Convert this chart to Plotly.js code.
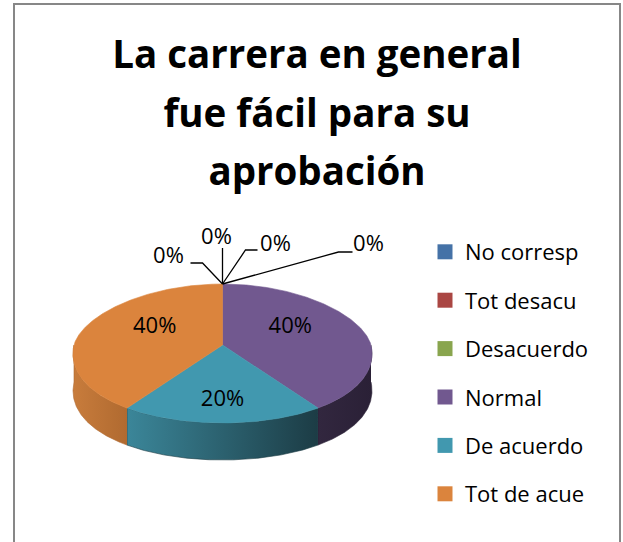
<!DOCTYPE html>
<html>
<head>
<meta charset="utf-8">
<script src="https://cdn.plot.ly/plotly-3.0.1.min.js"></script>
<style>html,body{margin:0;padding:0;background:#fff;}#chart{width:623px;height:542px;}</style>
</head>
<body>
<div id="chart"></div>
<script>
// ---- data ----
const categories = ['No corresp', 'Tot desacu', 'Desacuerdo', 'Normal', 'De acuerdo', 'Tot de acue', ''];
const values = [0, 0, 0, 40, 20, 40, 0];
const legendCategories = ['No corresp', 'Tot desacu', 'Desacuerdo', 'Normal', 'De acuerdo', 'Tot de acue'];
const titleLines = ['La carrera en general', 'fue fácil para su', 'aprobación'];

// ---- styles ----
const topColors = ['#4572A7', '#AA4643', '#89A54E', '#71588F', '#4198AF', '#DB843D', '#4572A7'];
const sideLight = ['#3a5f8c', '#8e3a37', '#718a40', '#32273f', '#3b8699', '#c87c3c', '#3a5f8c'];
const sideDark = ['#2a4566', '#6a2a28', '#55682f', '#2a2036', '#1c3c45', '#b06a30', '#2a4566'];
const FONT = '"Open Sans", Lato, "Liberation Sans", sans-serif';

// ---- geometry (pixel space) ----
const W = 623, H = 542;
const CX = 222.5, CY = 345, RX = 148.5, RY_BACK = 61, RY_FRONT = 78, PERSP = 0.116, DEPTH = 37;
const LABEL_FX = 0.48, LABEL_FY = 0.75, LABEL_DY = -3;
// leader layouts for zero-value labels (offsets from slice anchor)
const ZERO_LEADERS = [
  {elbow: [-20, -21], end: [-32, -21], text: [-54, -27]},
  {elbow: [0, -36], end: [0, -36], text: [-6, -46]},
  {elbow: [23, -34], end: [35, -34], text: [53, -39]},
  {elbow: [116, -32], end: [130, -32], text: [146, -39]}
];

function pt(deg, f, dz) {
  const t = deg * Math.PI / 180;
  const s = Math.sin(t), c = Math.cos(t);
  const ry = c >= 0 ? RY_BACK : RY_FRONT;
  return [CX + f * RX * s * (1 - PERSP * c), CY - f * ry * c + (dz || 0)];
}
function arc(a, b, dz) {
  const out = [];
  const n = Math.max(2, Math.ceil(Math.abs(b - a) / 0.5));
  for (let i = 0; i <= n; i++) out.push(pt(a + (b - a) * i / n, 1, dz));
  return out;
}

const total = values.reduce((p, v) => p + v, 0);
const traces = [];
const sideTraces = [];
const topTraces = [];
let start = 0;
const labelX = [], labelY = [], labelT = [];
const leaderX = [], leaderY = [];
let zeroIdx = 0;
values.forEach((v, i) => {
  const sweep = v / total * 360;
  const a = start, b = start + sweep;
  const pct = Math.round(v / total * 100) + '%';
  if (v > 0) {
    // side wall (visible front half: 90..270)
    const lo = Math.max(a, 90), hi = Math.min(b, 270);
    if (hi > lo) {
      const topArc = arc(lo, hi, 0);
      const botArc = arc(hi, lo, DEPTH);
      const poly = topArc.concat(botArc);
      sideTraces.push({
        type: 'scatter', mode: 'lines', x: poly.map(p => p[0]), y: poly.map(p => p[1]),
        fill: 'toself', line: {width: 0.6, color: sideDark[i]},
        fillgradient: {type: 'horizontal', colorscale: [[0, sideLight[i]], [1, sideDark[i]]]},
        showlegend: false, hoverinfo: 'skip'
      });
    }
    // top face
    const poly = [[CX, CY]].concat(arc(a, b, 0));
    poly.push([CX, CY]);
    topTraces.push({
      type: 'scatter', mode: 'lines', x: poly.map(p => p[0]), y: poly.map(p => p[1]),
      fill: 'toself', fillcolor: topColors[i], line: {width: 0.6, color: topColors[i]},
      showlegend: false, hoverinfo: 'skip'
    });
    const mid = (a + b) / 2;
    const t = mid * Math.PI / 180;
    const c = Math.cos(t);
    const ry = c >= 0 ? RY_BACK : RY_FRONT;
    labelX.push(CX + LABEL_FX * RX * Math.sin(t));
    labelY.push(CY - LABEL_FY * ry * c + LABEL_DY);
    labelT.push(pct);
  } else {
    const anchor = pt(a, 1, 0);
    const L = ZERO_LEADERS[zeroIdx % ZERO_LEADERS.length];
    zeroIdx++;
    leaderX.push(anchor[0], anchor[0] + L.elbow[0], anchor[0] + L.end[0], null);
    leaderY.push(anchor[1], anchor[1] + L.elbow[1], anchor[1] + L.end[1], null);
    labelX.push(anchor[0] + L.text[0]);
    labelY.push(anchor[1] + L.text[1]);
    labelT.push(pct);
  }
  start = b;
});

traces.push(...sideTraces, ...topTraces);
traces.push({
  type: 'scatter', mode: 'lines', x: leaderX, y: leaderY,
  line: {color: '#000', width: 1.3}, showlegend: false, hoverinfo: 'skip'
});
traces.push({
  type: 'scatter', mode: 'text', x: labelX, y: labelY, text: labelT,
  textposition: 'middle center', textfont: {family: FONT, size: 22, color: '#000'},
  showlegend: false, hoverinfo: 'skip'
});
legendCategories.forEach((name, i) => {
  traces.push({
    type: 'scatter', mode: 'markers', x: [null], y: [null], name: name,
    legendgroup: 'g' + i,
    marker: {symbol: 'square', size: 15, color: topColors[i]},
    showlegend: true, hoverinfo: 'skip'
  });
});

const titleText = titleLines.map(s => '<span style="font-size:38.5px"><b>' + s + '</b></span>').join('<br>');

const layout = {
  width: W, height: H,
  margin: {l: 0, r: 0, t: 0, b: 0},
  paper_bgcolor: '#fff', plot_bgcolor: '#fff',
  font: {family: FONT, color: '#000'},
  title: {
    text: titleText,
    font: {family: FONT, size: 45, color: '#000'},
    x: 317 / W, xref: 'container', xanchor: 'center',
    y: 1 - 68 / H, yref: 'container', yanchor: 'top'
  },
  xaxis: {range: [0, W], visible: false, fixedrange: true, showgrid: false, zeroline: false},
  yaxis: {range: [H, 0], visible: false, fixedrange: true, showgrid: false, zeroline: false},
  showlegend: true,
  legend: {
    x: 425 / W, xanchor: 'left', y: 1 - 231 / H, yanchor: 'top',
    font: {family: FONT, size: 22, color: '#000'},
    traceorder: 'grouped', tracegroupgap: 16.8, itemsizing: 'trace',
    bgcolor: 'rgba(0,0,0,0)', borderwidth: 0
  },
  shapes: [{
    type: 'rect', xref: 'x', yref: 'y', x0: 14, x1: 620, y0: 4, y1: H + 10,
    line: {color: '#878787', width: 2}, fillcolor: 'rgba(0,0,0,0)', layer: 'below'
  }]
};

Plotly.newPlot('chart', traces, layout, {staticPlot: true, displayModeBar: false});
</script>
</body>
</html>
